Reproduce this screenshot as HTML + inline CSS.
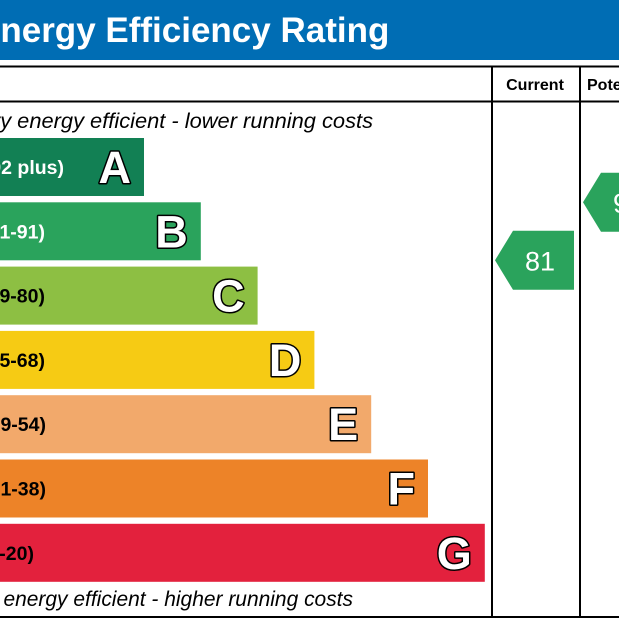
<!DOCTYPE html>
<html><head><meta charset="utf-8"><style>
html,body{margin:0;padding:0;background:#fff;}
svg{display:block;font-family:"Liberation Sans",Arial,sans-serif;}
</style></head><body>
<svg id="c" width="619" height="619" viewBox="0 0 619 619">
  <rect x="0" y="0" width="619" height="60" fill="#006db4"/>
  <text x="-23" y="42" font-size="35" font-weight="bold" fill="#fff">Energy Efficiency Rating</text>
  <g stroke="#000" stroke-width="2">
    <line x1="0" y1="66.5" x2="619" y2="66.5"/>
    <line x1="0" y1="101.5" x2="619" y2="101.5"/>
    <line x1="0" y1="617" x2="619" y2="617"/>
    <line x1="492" y1="66" x2="492" y2="618"/>
    <line x1="580" y1="66" x2="580" y2="618"/>
  </g>
  <text x="535" y="90" font-size="16" font-weight="bold" text-anchor="middle">Current</text>
  <text x="587" y="90" font-size="16" font-weight="bold">Potential</text>
  <text x="-33" y="128" font-size="21" font-style="italic" textLength="406" lengthAdjust="spacingAndGlyphs">Very energy efficient - lower running costs</text>
  <text x="-35" y="606" font-size="21" font-style="italic" textLength="388" lengthAdjust="spacingAndGlyphs">Not energy efficient - higher running costs</text>
  <g id="bars"></g>
  <g id="arrows"></g>
</svg>
<script>
const bandLetters = ["A","B","C","D","E","F","G"];
const bandRanges = ["(92 plus)","(81-91)","(69-80)","(55-68)","(39-54)","(21-38)","(1-20)"];
const bandMins = [92,81,69,55,39,21,1];
const bandMaxs = [100,91,80,68,54,38,20];
const currentScore = 81;
const potentialScore = 91;

const colors = ["#128054","#2aa35c","#8dbf43","#f6cb14","#f2a96b","#ed8328","#e3213d"];
const darkText = [false,false,true,true,true,true,true];
const NS = "http://www.w3.org/2000/svg";
const bars = document.getElementById("bars");
const arrows = document.getElementById("arrows");
const bandTop = i => 138 + i * 64.3;
const bandRight = i => 144 + i * 56.8;
const bandH = 58;
function el(tag, attrs, parent){const e=document.createElementNS(NS,tag);for(const k in attrs)e.setAttribute(k,attrs[k]);parent.appendChild(e);return e;}
const labelEnds = [64,45,45,45,46,46,34];
bandLetters.forEach((L,i)=>{
  const y = bandTop(i);
  const r = el("rect",{x:0,y:y,width:bandRight(i),height:bandH,fill:colors[i]},bars);
  
  
  const t = el("text",{x:labelEnds[i],y:y+36,"font-size":19.5,"font-weight":"bold","text-anchor":"end",fill:darkText[i]?"#000":"#fff"},bars);
  t.textContent = bandRanges[i];
  
  
  const lt = el("text",{x:bandRight(i)-13,y:y+45,"font-size":45,"font-weight":"bold","text-anchor":"end",fill:"#fff",stroke:"#000","stroke-width":3,"paint-order":"stroke","stroke-linejoin":"round"},bars);
  lt.textContent = L;
  
  
});
function bandIndex(s){const i=bandMins.findIndex(m=>s>=m);return i<0?6:i;}
function scoreY(s){
  const i = bandIndex(s);
  const frac = (bandMaxs[i]-s)/(bandMaxs[i]-bandMins[i]);
  return bandTop(i) + bandH*Math.min(1,Math.max(0,frac));
}
function arrow(s, x0, x1, name){
  const cy = scoreY(s);
  const h = 59;
  const g = el("g",{},arrows);
  
  
  el("polygon",{points:`${x0},${cy} ${x0+18},${cy-h/2} ${x1},${cy-h/2} ${x1},${cy+h/2} ${x0+18},${cy+h/2}`,fill:colors[bandIndex(s)]},g);
  const t = el("text",{x:x0+45,y:cy+10,"font-size":27,"text-anchor":"middle",fill:"#fff"},g);
  t.textContent = s;
}
arrow(currentScore, 495, 574, 'current-rating-arrow');
arrow(potentialScore, 583, 662, 'potential-rating-arrow');
</script>
</body></html>
